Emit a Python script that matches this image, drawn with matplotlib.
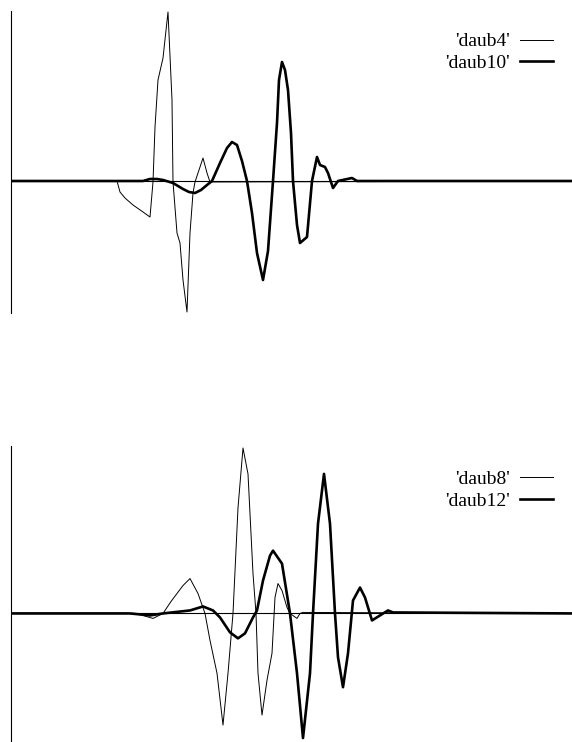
import matplotlib.pyplot as plt

plt.rcParams['font.family'] = ['Liberation Serif', 'DejaVu Serif']

# top panel: daub4 (thin) and daub10 (thick)
x_d4 = [0, 106, 109, 114, 122, 132, 139, 142, 144, 147, 152, 157, 161, 162, 166, 169, 172, 176,
        179, 182, 184, 192, 196, 199, 561]
y_d4 = [0, 0, -0.011, -0.017, -0.024, -0.031, -0.036, -0.001, 0.054, 0.101, 0.123, 0.169, 0.081,
        -0.001, -0.052, -0.062, -0.099, -0.131, -0.052, -0.012, -0.001, 0.023, 0.008, -0.001, 0]

x_d10 = [0, 132, 139, 146, 152, 162, 172, 178, 184, 190, 196, 201, 209, 216, 221, 226, 231, 236,
         241, 246, 252, 257, 262, 266, 268, 271, 274, 277, 280, 282, 286, 289, 296, 301, 306, 309,
         314, 317, 322, 327, 341, 346, 561]
y_d10 = [0, 0, 0.002, 0.002, 0.001, -0.002, -0.008, -0.011, -0.012, -0.009, -0.004, 0, 0.018, 0.033,
         0.039, 0.036, 0.020, 0, -0.032, -0.072, -0.099, -0.070, 0, 0.058, 0.101, 0.119, 0.111,
         0.091, 0.048, 0, -0.044, -0.062, -0.056, 0, 0.024, 0.016, 0.014, 0.008, -0.007, 0, 0.003,
         0, 0]

# bottom panel: daub8 (thin) and daub12 (thick)
x_d8 = [0, 125, 142, 152, 160, 172, 179, 187, 194, 199, 206, 212, 217, 222, 227, 232, 237, 242,
        245, 247, 251, 256, 261, 264, 267, 271, 276, 279, 286, 289, 292, 561]
y_d8 = [0, 0, -0.005, 0, 0.012, 0.028, 0.035, 0.020, 0, -0.027, -0.060, -0.112, -0.060, 0, 0.106,
        0.166, 0.140, 0.040, 0, -0.060, -0.102, -0.067, -0.040, 0.016, 0.030, 0.023, 0.006, 0,
        -0.005, 0, 0.001, 0]

x_d12 = [0, 119, 139, 152, 179, 192, 202, 209, 219, 227, 234, 242, 246, 252, 259, 262, 271, 279,
         286, 292, 299, 302, 307, 313, 319, 324, 327, 332, 337, 342, 349, 354, 361, 369, 377, 382,
         561]
y_d12 = [0, 0, -0.002, 0, 0.003, 0.007, 0.003, -0.004, -0.019, -0.025, -0.020, -0.004, 0.003, 0.033,
         0.058, 0.063, 0.050, 0, -0.060, -0.125, -0.060, 0, 0.090, 0.140, 0.090, 0, -0.044, -0.074,
         -0.040, 0.013, 0.026, 0.016, -0.007, -0.002, 0.003, 0.001, 0]

fig = plt.figure(figsize=(5.72, 7.42), dpi=100)
W, H = 572.0, 742.0
ax1 = fig.add_axes([11 / W, 1 - 313 / H, 561 / W, 302 / H])
ax2 = fig.add_axes([11 / W, 0, 561 / W, 296 / H])


def style(ax, ylo, yhi):
    ax.set_xlim(0, 561)
    ax.set_ylim(ylo, yhi)
    for s in ['top', 'right', 'bottom']:
        ax.spines[s].set_visible(False)
    ax.spines['left'].set_linewidth(0.8)
    ax.set_xticks([])
    ax.set_yticks([])
    ax.axhline(0, color='black', lw=0.8)
    ax.patch.set_alpha(0)


def legend(ax, top):
    ax.legend(loc='upper right', markerfirst=False, frameon=False, fontsize=14,
              bbox_to_anchor=(0.966, top), borderaxespad=0, borderpad=0,
              handlelength=1.7, handletextpad=0.5, labelspacing=0.22)


style(ax1, -0.132, 0.170)
ax1.plot(x_d4, y_d4, color='black', lw=0.7, label="'daub4'")
ax1.plot(x_d10, y_d10, color='black', lw=1.9, label="'daub10'")
legend(ax1, 0.928)

style(ax2, -0.129, 0.168)
ax2.plot(x_d8, y_d8, color='black', lw=0.7, label="'daub8'")
ax2.plot(x_d12, y_d12, color='black', lw=1.9, label="'daub12'")
legend(ax2, 0.918)

fig.savefig('out.png', dpi=100)
